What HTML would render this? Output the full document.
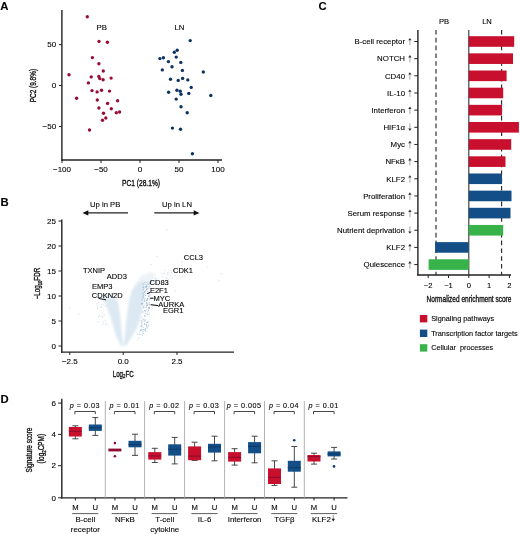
<!DOCTYPE html>
<html><head><meta charset="utf-8"><style>
html,body{margin:0;padding:0;background:#fff;}
svg{display:block;font-family:"Liberation Sans", sans-serif;opacity:0.999;}
text{fill:#000;stroke:#000;stroke-width:0.1px;}
text.cd{stroke:#1a1a1a;stroke-width:0.35px;}
</style></head><body>
<svg width="520" height="534" viewBox="0 0 520 534">
<defs><filter id="bl" x="-20%" y="-20%" width="140%" height="140%"><feGaussianBlur stdDeviation="0.8"/></filter></defs>
<rect width="520" height="534" fill="#fff"/>
<text x="0.2" y="9.7" font-size="11.3" text-anchor="start" font-weight="bold">A</text>
<text x="0.6" y="205.7" font-size="11.3" text-anchor="start" font-weight="bold">B</text>
<text x="318.4" y="9.7" font-size="11.3" text-anchor="start" font-weight="bold">C</text>
<text x="0.6" y="402.6" font-size="11.3" text-anchor="start" font-weight="bold">D</text>
<line x1="61.9" y1="10" x2="61.9" y2="160.6" stroke="#222" stroke-width="1.4" />
<line x1="61.2" y1="160" x2="222" y2="160" stroke="#222" stroke-width="1.3" />
<line x1="59" y1="44.6" x2="62" y2="44.6" stroke="#222" stroke-width="1" />
<text x="56.2" y="47.300000000000004" font-size="8.0" text-anchor="end" >50</text>
<line x1="59" y1="85.5" x2="62" y2="85.5" stroke="#222" stroke-width="1" />
<text x="56.2" y="88.2" font-size="8.0" text-anchor="end" >0</text>
<line x1="59" y1="126.5" x2="62" y2="126.5" stroke="#222" stroke-width="1" />
<text x="56.2" y="129.2" font-size="8.0" text-anchor="end" >&#8722;50</text>
<line x1="62" y1="160" x2="62" y2="163" stroke="#222" stroke-width="1" />
<text x="62" y="172.0" font-size="8.0" text-anchor="middle" >&#8722;100</text>
<line x1="101" y1="160" x2="101" y2="163" stroke="#222" stroke-width="1" />
<text x="101" y="172.0" font-size="8.0" text-anchor="middle" >&#8722;50</text>
<line x1="140" y1="160" x2="140" y2="163" stroke="#222" stroke-width="1" />
<text x="140" y="172.0" font-size="8.0" text-anchor="middle" >0</text>
<line x1="179" y1="160" x2="179" y2="163" stroke="#222" stroke-width="1" />
<text x="179" y="172.0" font-size="8.0" text-anchor="middle" >50</text>
<line x1="218" y1="160" x2="218" y2="163" stroke="#222" stroke-width="1" />
<text x="218" y="172.0" font-size="8.0" text-anchor="middle" >100</text>
<text x="141" y="185.6" font-size="8.8" text-anchor="middle" class="cd" textLength="38" lengthAdjust="spacingAndGlyphs">PC1 (28.1%)</text>
<text class="cd" transform="translate(35.9,85.6) rotate(-90)" font-size="8.8" text-anchor="middle" textLength="33.5" lengthAdjust="spacingAndGlyphs">PC2 (9.8%)</text>
<text x="101.8" y="29.8" font-size="7.8" text-anchor="middle" >PB</text>
<text x="179.5" y="29.6" font-size="7.8" text-anchor="middle" >LN</text>
<circle cx="87.3" cy="16.7" r="1.68" fill="#960c33" />
<circle cx="99" cy="41.4" r="1.68" fill="#960c33" />
<circle cx="107.4" cy="42.3" r="1.68" fill="#960c33" />
<circle cx="92.4" cy="57.6" r="1.68" fill="#960c33" />
<circle cx="98.9" cy="63.8" r="1.68" fill="#960c33" />
<circle cx="103.3" cy="71" r="1.68" fill="#960c33" />
<circle cx="69" cy="74.7" r="1.68" fill="#960c33" />
<circle cx="91.2" cy="76.9" r="1.68" fill="#960c33" />
<circle cx="98.8" cy="76.4" r="1.68" fill="#960c33" />
<circle cx="111.1" cy="78.1" r="1.68" fill="#960c33" />
<circle cx="99.8" cy="78.6" r="1.68" fill="#960c33" />
<circle cx="103.1" cy="79.8" r="1.68" fill="#960c33" />
<circle cx="88.4" cy="82.9" r="1.68" fill="#960c33" />
<circle cx="92" cy="90.6" r="1.68" fill="#960c33" />
<circle cx="97.1" cy="91.9" r="1.68" fill="#960c33" />
<circle cx="101.5" cy="90.2" r="1.68" fill="#960c33" />
<circle cx="109.5" cy="91.1" r="1.68" fill="#960c33" />
<circle cx="76.6" cy="98.3" r="1.68" fill="#960c33" />
<circle cx="97.3" cy="100" r="1.68" fill="#960c33" />
<circle cx="117.6" cy="100.7" r="1.68" fill="#960c33" />
<circle cx="107.6" cy="103.4" r="1.68" fill="#960c33" />
<circle cx="98.9" cy="108" r="1.68" fill="#960c33" />
<circle cx="111.3" cy="108.8" r="1.68" fill="#960c33" />
<circle cx="116.3" cy="112.7" r="1.68" fill="#960c33" />
<circle cx="119.6" cy="112" r="1.68" fill="#960c33" />
<circle cx="103.5" cy="113.2" r="1.68" fill="#960c33" />
<circle cx="105.8" cy="118" r="1.68" fill="#960c33" />
<circle cx="102.5" cy="120.2" r="1.68" fill="#960c33" />
<circle cx="89.5" cy="130" r="1.68" fill="#960c33" />
<circle cx="190.2" cy="40.6" r="1.68" fill="#0c3262" />
<circle cx="177.2" cy="50.3" r="1.68" fill="#0c3262" />
<circle cx="174.3" cy="52.2" r="1.68" fill="#0c3262" />
<circle cx="176.2" cy="57.1" r="1.68" fill="#0c3262" />
<circle cx="159.9" cy="58.6" r="1.68" fill="#0c3262" />
<circle cx="163.4" cy="57.8" r="1.68" fill="#0c3262" />
<circle cx="168.4" cy="61.6" r="1.68" fill="#0c3262" />
<circle cx="180.8" cy="62.4" r="1.68" fill="#0c3262" />
<circle cx="172" cy="66.8" r="1.68" fill="#0c3262" />
<circle cx="162.3" cy="69.9" r="1.68" fill="#0c3262" />
<circle cx="182.4" cy="70.4" r="1.68" fill="#0c3262" />
<circle cx="203.3" cy="72" r="1.68" fill="#0c3262" />
<circle cx="170.5" cy="79.2" r="1.68" fill="#0c3262" />
<circle cx="178.2" cy="80.4" r="1.68" fill="#0c3262" />
<circle cx="182.6" cy="78.4" r="1.68" fill="#0c3262" />
<circle cx="187.8" cy="79.9" r="1.68" fill="#0c3262" />
<circle cx="191.2" cy="87.4" r="1.68" fill="#0c3262" />
<circle cx="168.6" cy="92.2" r="1.68" fill="#0c3262" />
<circle cx="176.9" cy="90.3" r="1.68" fill="#0c3262" />
<circle cx="180.2" cy="91.3" r="1.68" fill="#0c3262" />
<circle cx="181" cy="94.3" r="1.68" fill="#0c3262" />
<circle cx="188.8" cy="93.4" r="1.68" fill="#0c3262" />
<circle cx="210.8" cy="95.5" r="1.68" fill="#0c3262" />
<circle cx="176.2" cy="99.1" r="1.68" fill="#0c3262" />
<circle cx="181" cy="106.8" r="1.68" fill="#0c3262" />
<circle cx="187.2" cy="112.7" r="1.68" fill="#0c3262" />
<circle cx="172.4" cy="128.1" r="1.68" fill="#0c3262" />
<circle cx="180.5" cy="129.3" r="1.68" fill="#0c3262" />
<circle cx="192.4" cy="153.7" r="1.68" fill="#0c3262" />
<text x="105.2" y="206.8" font-size="7.7" text-anchor="middle" >Up in PB</text>
<text x="177" y="206.8" font-size="7.7" text-anchor="middle" >Up in LN</text>
<line x1="86" y1="212.9" x2="128" y2="212.9" stroke="#222" stroke-width="1.2" />
<path d="M82.5,212.9 L88.3,210.3 L88.3,215.5 Z" fill="#111"/>
<line x1="154.3" y1="212.9" x2="196" y2="212.9" stroke="#222" stroke-width="1.2" />
<path d="M199.5,212.9 L193.7,210.3 L193.7,215.5 Z" fill="#111"/>
<line x1="61.8" y1="219.5" x2="61.8" y2="352.7" stroke="#222" stroke-width="1.4" />
<line x1="61.1" y1="352.1" x2="234" y2="352.1" stroke="#222" stroke-width="1.3" />
<line x1="58.5" y1="346" x2="61.8" y2="346" stroke="#222" stroke-width="1" />
<text x="56" y="348.7" font-size="8.0" text-anchor="end" >0</text>
<line x1="58.5" y1="321" x2="61.8" y2="321" stroke="#222" stroke-width="1" />
<text x="56" y="323.7" font-size="8.0" text-anchor="end" >5</text>
<line x1="58.5" y1="296" x2="61.8" y2="296" stroke="#222" stroke-width="1" />
<text x="56" y="298.7" font-size="8.0" text-anchor="end" >10</text>
<line x1="58.5" y1="271" x2="61.8" y2="271" stroke="#222" stroke-width="1" />
<text x="56" y="273.7" font-size="8.0" text-anchor="end" >15</text>
<line x1="58.5" y1="246" x2="61.8" y2="246" stroke="#222" stroke-width="1" />
<text x="56" y="248.7" font-size="8.0" text-anchor="end" >20</text>
<line x1="58.5" y1="221" x2="61.8" y2="221" stroke="#222" stroke-width="1" />
<text x="56" y="223.7" font-size="8.0" text-anchor="end" >25</text>
<line x1="69.8" y1="352.1" x2="69.8" y2="355" stroke="#222" stroke-width="1" />
<text x="69.8" y="363.7" font-size="8.0" text-anchor="middle" >&#8722;2.5</text>
<line x1="123.2" y1="352.1" x2="123.2" y2="355" stroke="#222" stroke-width="1" />
<text x="123.2" y="363.7" font-size="8.0" text-anchor="middle" >0.0</text>
<line x1="177" y1="352.1" x2="177" y2="355" stroke="#222" stroke-width="1" />
<text x="177" y="363.7" font-size="8.0" text-anchor="middle" >2.5</text>
<text class="cd" x="123.2" y="376.6" font-size="8.8" text-anchor="middle" textLength="21" lengthAdjust="spacingAndGlyphs">Log<tspan font-size="6" dy="1.8">2</tspan><tspan dy="-1.8">FC</tspan></text>
<text class="cd" transform="translate(40.3,283.6) rotate(-90)" font-size="8.8" text-anchor="middle" textLength="31.5" lengthAdjust="spacingAndGlyphs">&#8722;Log<tspan font-size="6" dy="1.8">10</tspan><tspan dy="-1.8">FDR</tspan></text>
<g filter="url(#bl)">
<polygon fill="#e6eff5" points="102,297 107,294 113,296 117,301 106,302"/>
<polygon fill="#edf3f8" points="131,296 135,284 141,276 150,272 156,274 150,282 144,288"/>
<polygon fill="#dde9f2" points="104.5,300.5 109,299 114,299 118,300.5 121,322 122.9,343 123.3,346 121,346 115.5,335 111.5,320"/>
<polygon fill="#dde9f2" points="132,290 137,284 142,281 145.5,283 144.5,300 140,320 136,330 130.5,339 126.5,345.5 123.7,346 124.1,343 126,322 129,300"/>
</g>
<circle cx="143.3" cy="297.5" r="0.55" fill="#7e9fc2" />
<circle cx="149.8" cy="283.5" r="0.55" fill="#9dbad6" />
<circle cx="142.4" cy="299.7" r="0.55" fill="#aac3dc" />
<circle cx="143.1" cy="291.9" r="0.55" fill="#c4d7e8" />
<circle cx="143.6" cy="284.6" r="0.55" fill="#c4d7e8" />
<circle cx="147.6" cy="284.0" r="0.55" fill="#b7cde2" />
<circle cx="146.0" cy="313.2" r="0.55" fill="#9dbad6" />
<circle cx="144.6" cy="310.4" r="0.55" fill="#b7cde2" />
<circle cx="150.2" cy="283.4" r="0.55" fill="#8aaacb" />
<circle cx="146.3" cy="302.4" r="0.55" fill="#aac3dc" />
<circle cx="149.0" cy="296.7" r="0.55" fill="#b7cde2" />
<circle cx="147.5" cy="286.3" r="0.55" fill="#b7cde2" />
<circle cx="146.5" cy="300.0" r="0.55" fill="#9dbad6" />
<circle cx="146.5" cy="309.8" r="0.55" fill="#c4d7e8" />
<circle cx="144.6" cy="315.7" r="0.55" fill="#8aaacb" />
<circle cx="149.4" cy="304.7" r="0.55" fill="#8aaacb" />
<circle cx="148.8" cy="296.3" r="0.55" fill="#7e9fc2" />
<circle cx="141.3" cy="320.8" r="0.55" fill="#8aaacb" />
<circle cx="148.8" cy="307.8" r="0.55" fill="#7e9fc2" />
<circle cx="146.8" cy="303.9" r="0.55" fill="#9dbad6" />
<circle cx="146.2" cy="287.0" r="0.55" fill="#8aaacb" />
<circle cx="146.7" cy="288.8" r="0.55" fill="#9dbad6" />
<circle cx="140.7" cy="330.1" r="0.55" fill="#aac3dc" />
<circle cx="148.7" cy="310.2" r="0.55" fill="#8aaacb" />
<circle cx="144.9" cy="298.3" r="0.55" fill="#c4d7e8" />
<circle cx="145.1" cy="310.6" r="0.55" fill="#9dbad6" />
<circle cx="144.1" cy="329.2" r="0.55" fill="#7e9fc2" />
<circle cx="149.0" cy="284.3" r="0.55" fill="#8aaacb" />
<circle cx="149.5" cy="314.0" r="0.55" fill="#c4d7e8" />
<circle cx="145.4" cy="295.5" r="0.55" fill="#7e9fc2" />
<circle cx="149.9" cy="298.7" r="0.55" fill="#8aaacb" />
<circle cx="143.5" cy="289.6" r="0.55" fill="#9dbad6" />
<circle cx="144.8" cy="292.1" r="0.55" fill="#7e9fc2" />
<circle cx="145.6" cy="293.6" r="0.55" fill="#c4d7e8" />
<circle cx="146.6" cy="285.1" r="0.55" fill="#aac3dc" />
<circle cx="143.3" cy="295.2" r="0.55" fill="#c4d7e8" />
<circle cx="142.7" cy="325.1" r="0.55" fill="#c4d7e8" />
<circle cx="145.8" cy="331.3" r="0.55" fill="#c4d7e8" />
<circle cx="141.4" cy="329.8" r="0.55" fill="#b7cde2" />
<circle cx="148.1" cy="288.7" r="0.55" fill="#9dbad6" />
<circle cx="146.5" cy="305.7" r="0.55" fill="#8aaacb" />
<circle cx="143.4" cy="295.4" r="0.55" fill="#aac3dc" />
<circle cx="146.7" cy="299.8" r="0.55" fill="#b7cde2" />
<circle cx="145.3" cy="316.2" r="0.55" fill="#aac3dc" />
<circle cx="147.3" cy="314.4" r="0.55" fill="#c4d7e8" />
<circle cx="146.9" cy="326.9" r="0.55" fill="#7e9fc2" />
<circle cx="143.9" cy="321.7" r="0.55" fill="#c4d7e8" />
<circle cx="145.9" cy="301.1" r="0.55" fill="#c4d7e8" />
<circle cx="143.4" cy="284.2" r="0.55" fill="#b7cde2" />
<circle cx="142.6" cy="303.5" r="0.55" fill="#aac3dc" />
<circle cx="142.8" cy="283.7" r="0.55" fill="#b7cde2" />
<circle cx="149.4" cy="308.4" r="0.55" fill="#aac3dc" />
<circle cx="150.4" cy="282.3" r="0.55" fill="#aac3dc" />
<circle cx="147.2" cy="300.2" r="0.55" fill="#8aaacb" />
<circle cx="145.2" cy="311.7" r="0.55" fill="#9dbad6" />
<circle cx="148.8" cy="324.3" r="0.55" fill="#c4d7e8" />
<circle cx="144.2" cy="305.5" r="0.55" fill="#b7cde2" />
<circle cx="145.6" cy="286.2" r="0.55" fill="#8aaacb" />
<circle cx="147.4" cy="305.4" r="0.55" fill="#aac3dc" />
<circle cx="151.0" cy="282.2" r="0.55" fill="#aac3dc" />
<circle cx="147.8" cy="299.4" r="0.55" fill="#9dbad6" />
<circle cx="143.2" cy="319.7" r="0.55" fill="#7e9fc2" />
<circle cx="146.3" cy="325.0" r="0.55" fill="#8aaacb" />
<circle cx="149.1" cy="307.4" r="0.55" fill="#8aaacb" />
<circle cx="145.2" cy="320.4" r="0.55" fill="#aac3dc" />
<circle cx="143.9" cy="297.8" r="0.55" fill="#b7cde2" />
<circle cx="147.5" cy="322.1" r="0.55" fill="#7e9fc2" />
<circle cx="142.2" cy="322.0" r="0.55" fill="#c4d7e8" />
<circle cx="142.2" cy="299.1" r="0.55" fill="#9dbad6" />
<circle cx="144.6" cy="321.3" r="0.55" fill="#b7cde2" />
<circle cx="149.0" cy="316.3" r="0.55" fill="#c4d7e8" />
<circle cx="146.7" cy="322.2" r="0.55" fill="#8aaacb" />
<circle cx="143.2" cy="329.7" r="0.55" fill="#b7cde2" />
<circle cx="146.7" cy="286.2" r="0.55" fill="#8aaacb" />
<circle cx="147.7" cy="291.4" r="0.55" fill="#aac3dc" />
<circle cx="144.5" cy="323.9" r="0.55" fill="#7e9fc2" />
<circle cx="147.4" cy="298.5" r="0.55" fill="#7e9fc2" />
<circle cx="145.9" cy="287.1" r="0.55" fill="#7e9fc2" />
<circle cx="144.8" cy="319.3" r="0.55" fill="#b7cde2" />
<circle cx="147.1" cy="303.1" r="0.55" fill="#9dbad6" />
<circle cx="148.8" cy="321.8" r="0.55" fill="#c4d7e8" />
<circle cx="147.9" cy="304.6" r="0.55" fill="#9dbad6" />
<circle cx="142.2" cy="318.0" r="0.55" fill="#b7cde2" />
<circle cx="147.9" cy="282.4" r="0.55" fill="#c4d7e8" />
<circle cx="141.8" cy="322.1" r="0.55" fill="#aac3dc" />
<circle cx="145.6" cy="331.0" r="0.55" fill="#8aaacb" />
<circle cx="147.2" cy="289.0" r="0.55" fill="#9dbad6" />
<circle cx="151.2" cy="281.7" r="0.55" fill="#7e9fc2" />
<circle cx="149.1" cy="286.2" r="0.55" fill="#b7cde2" />
<circle cx="149.1" cy="303.1" r="0.55" fill="#b7cde2" />
<circle cx="144.7" cy="282.4" r="0.55" fill="#aac3dc" />
<circle cx="147.2" cy="293.3" r="0.55" fill="#8aaacb" />
<circle cx="148.4" cy="308.8" r="0.55" fill="#9dbad6" />
<circle cx="143.2" cy="327.4" r="0.55" fill="#c4d7e8" />
<circle cx="147.9" cy="314.8" r="0.55" fill="#aac3dc" />
<circle cx="149.5" cy="302.5" r="0.55" fill="#aac3dc" />
<circle cx="143.9" cy="287.7" r="0.55" fill="#aac3dc" />
<circle cx="146.7" cy="282.0" r="0.55" fill="#b7cde2" />
<circle cx="147.7" cy="312.0" r="0.55" fill="#b7cde2" />
<circle cx="146.5" cy="289.8" r="0.55" fill="#7e9fc2" />
<circle cx="143.2" cy="287.1" r="0.55" fill="#7e9fc2" />
<circle cx="146.1" cy="307.4" r="0.55" fill="#9dbad6" />
<circle cx="140.8" cy="326.0" r="0.55" fill="#b7cde2" />
<circle cx="148.7" cy="295.1" r="0.55" fill="#aac3dc" />
<circle cx="141.9" cy="304.1" r="0.55" fill="#9dbad6" />
<circle cx="146.9" cy="303.6" r="0.55" fill="#aac3dc" />
<circle cx="142.8" cy="311.9" r="0.55" fill="#8aaacb" />
<circle cx="146.1" cy="304.1" r="0.55" fill="#c4d7e8" />
<circle cx="143.6" cy="306.9" r="0.55" fill="#aac3dc" />
<circle cx="148.3" cy="325.7" r="0.55" fill="#8aaacb" />
<circle cx="147.8" cy="328.1" r="0.55" fill="#b7cde2" />
<circle cx="141.6" cy="323.8" r="0.55" fill="#9dbad6" />
<circle cx="144.5" cy="301.0" r="0.55" fill="#7e9fc2" />
<circle cx="142.9" cy="293.3" r="0.55" fill="#7e9fc2" />
<circle cx="143.1" cy="296.4" r="0.55" fill="#b7cde2" />
<circle cx="145.6" cy="328.9" r="0.55" fill="#8aaacb" />
<circle cx="150.1" cy="288.3" r="0.55" fill="#c4d7e8" />
<circle cx="150.4" cy="292.2" r="0.55" fill="#c4d7e8" />
<circle cx="141.7" cy="326.1" r="0.55" fill="#7e9fc2" />
<circle cx="141.8" cy="323.5" r="0.55" fill="#c4d7e8" />
<circle cx="143.4" cy="331.7" r="0.55" fill="#c4d7e8" />
<circle cx="145.1" cy="291.0" r="0.55" fill="#7e9fc2" />
<circle cx="144.8" cy="299.7" r="0.55" fill="#c4d7e8" />
<circle cx="141.8" cy="303.5" r="0.55" fill="#8aaacb" />
<circle cx="143.9" cy="307.4" r="0.55" fill="#9dbad6" />
<circle cx="150.5" cy="286.8" r="0.55" fill="#b7cde2" />
<circle cx="140.9" cy="330.6" r="0.55" fill="#8aaacb" />
<circle cx="149.9" cy="294.9" r="0.55" fill="#b7cde2" />
<circle cx="143.3" cy="294.8" r="0.55" fill="#c4d7e8" />
<circle cx="146.1" cy="324.3" r="0.55" fill="#8aaacb" />
<circle cx="142.4" cy="331.7" r="0.5" fill="#aac3dc" />
<circle cx="142.2" cy="334.0" r="0.5" fill="#b7cde2" />
<circle cx="144.8" cy="329.9" r="0.5" fill="#b7cde2" />
<circle cx="139.5" cy="332.0" r="0.5" fill="#b7cde2" />
<circle cx="142.4" cy="334.9" r="0.5" fill="#b7cde2" />
<circle cx="139.1" cy="334.5" r="0.5" fill="#c4d7e8" />
<circle cx="138.7" cy="338.1" r="0.5" fill="#c4d7e8" />
<circle cx="137.5" cy="339.9" r="0.5" fill="#c4d7e8" />
<circle cx="137.9" cy="334.7" r="0.5" fill="#aac3dc" />
<circle cx="141.0" cy="329.3" r="0.5" fill="#b7cde2" />
<circle cx="141.3" cy="329.7" r="0.5" fill="#c4d7e8" />
<circle cx="140.8" cy="334.8" r="0.5" fill="#b7cde2" />
<circle cx="143.0" cy="330.1" r="0.5" fill="#b7cde2" />
<circle cx="144.9" cy="329.8" r="0.5" fill="#c4d7e8" />
<circle cx="141.9" cy="326.5" r="0.5" fill="#aac3dc" />
<circle cx="139.3" cy="333.7" r="0.5" fill="#c4d7e8" />
<circle cx="143.0" cy="329.4" r="0.5" fill="#aac3dc" />
<circle cx="138.9" cy="337.5" r="0.5" fill="#c4d7e8" />
<circle cx="143.5" cy="333.6" r="0.5" fill="#aac3dc" />
<circle cx="141.1" cy="330.3" r="0.5" fill="#b7cde2" />
<circle cx="105.3" cy="305.9" r="0.5" fill="#b9cbdb" />
<circle cx="98.4" cy="317.1" r="0.5" fill="#c4d7e8" />
<circle cx="105.4" cy="324.5" r="0.5" fill="#d0dfea" />
<circle cx="104.4" cy="298.1" r="0.5" fill="#c4d7e8" />
<circle cx="97.6" cy="308.5" r="0.5" fill="#b9cbdb" />
<circle cx="105.7" cy="320.4" r="0.5" fill="#b9cbdb" />
<circle cx="103.0" cy="324.2" r="0.5" fill="#b9cbdb" />
<circle cx="101.6" cy="304.5" r="0.5" fill="#d0dfea" />
<circle cx="97.0" cy="303.8" r="0.5" fill="#c4d7e8" />
<circle cx="106.7" cy="323.9" r="0.5" fill="#b9cbdb" />
<circle cx="97.3" cy="305.4" r="0.5" fill="#c4d7e8" />
<circle cx="98.8" cy="302.3" r="0.5" fill="#c4d7e8" />
<circle cx="101.7" cy="307.1" r="0.5" fill="#b9cbdb" />
<circle cx="99.5" cy="315.0" r="0.5" fill="#d0dfea" />
<circle cx="105.2" cy="298.6" r="0.5" fill="#d0dfea" />
<circle cx="97.4" cy="307.6" r="0.5" fill="#d0dfea" />
<circle cx="103.3" cy="304.7" r="0.5" fill="#d0dfea" />
<circle cx="102.3" cy="313.0" r="0.5" fill="#d0dfea" />
<circle cx="104.2" cy="315.1" r="0.5" fill="#b9cbdb" />
<circle cx="100.3" cy="307.3" r="0.5" fill="#c4d7e8" />
<circle cx="104.2" cy="300.3" r="0.5" fill="#b9cbdb" />
<circle cx="105.2" cy="300.2" r="0.5" fill="#b9cbdb" />
<circle cx="103.3" cy="321.9" r="0.5" fill="#b9cbdb" />
<circle cx="102.1" cy="316.3" r="0.5" fill="#b9cbdb" />
<circle cx="102.7" cy="317.8" r="0.5" fill="#d0dfea" />
<circle cx="165.1" cy="270.4" r="0.55" fill="#d5e2ee" />
<circle cx="149.3" cy="285.8" r="0.55" fill="#c8d9e8" />
<circle cx="154.7" cy="280.6" r="0.55" fill="#c8d9e8" />
<circle cx="161.8" cy="273.5" r="0.55" fill="#c8d9e8" />
<circle cx="161.9" cy="282.1" r="0.55" fill="#c8d9e8" />
<circle cx="166.8" cy="278.1" r="0.55" fill="#b9cde0" />
<circle cx="169.1" cy="272.1" r="0.55" fill="#d5e2ee" />
<circle cx="149.6" cy="279.8" r="0.55" fill="#dfe9f2" />
<circle cx="147.7" cy="283.5" r="0.55" fill="#c8d9e8" />
<circle cx="162.0" cy="275.8" r="0.55" fill="#d5e2ee" />
<circle cx="152.2" cy="277.3" r="0.55" fill="#d5e2ee" />
<circle cx="145.8" cy="286.7" r="0.55" fill="#c8d9e8" />
<circle cx="164.0" cy="273.4" r="0.55" fill="#b9cde0" />
<circle cx="157.0" cy="279.3" r="0.55" fill="#d5e2ee" />
<circle cx="155.3" cy="283.1" r="0.55" fill="#b9cde0" />
<circle cx="160.0" cy="272.0" r="0.55" fill="#dfe9f2" />
<circle cx="170.4" cy="275.5" r="0.55" fill="#d5e2ee" />
<circle cx="149.0" cy="287.6" r="0.55" fill="#b9cde0" />
<circle cx="175.1" cy="275.8" r="0.55" fill="#b9cde0" />
<circle cx="170.2" cy="270.6" r="0.55" fill="#dfe9f2" />
<circle cx="158.5" cy="286.3" r="0.55" fill="#dfe9f2" />
<circle cx="155.9" cy="276.8" r="0.55" fill="#dfe9f2" />
<circle cx="153.5" cy="281.1" r="0.55" fill="#b9cde0" />
<circle cx="172.5" cy="278.1" r="0.55" fill="#c8d9e8" />
<circle cx="170.6" cy="275.3" r="0.55" fill="#dfe9f2" />
<circle cx="156.3" cy="279.3" r="0.55" fill="#dfe9f2" />
<circle cx="167.7" cy="272.7" r="0.55" fill="#c8d9e8" />
<circle cx="168.0" cy="280.3" r="0.55" fill="#d5e2ee" />
<circle cx="171.5" cy="272.5" r="0.55" fill="#b9cde0" />
<circle cx="167.1" cy="274.5" r="0.55" fill="#dfe9f2" />
<circle cx="173.8" cy="270.9" r="0.55" fill="#c8d9e8" />
<circle cx="145.2" cy="282.0" r="0.55" fill="#d5e2ee" />
<circle cx="163.2" cy="277.3" r="0.55" fill="#d5e2ee" />
<circle cx="147.7" cy="284.7" r="0.55" fill="#b9cde0" />
<circle cx="167.7" cy="274.6" r="0.55" fill="#d5e2ee" />
<circle cx="151.2" cy="280.4" r="0.55" fill="#d5e2ee" />
<circle cx="165.4" cy="278.0" r="0.55" fill="#dfe9f2" />
<circle cx="158.8" cy="278.5" r="0.55" fill="#dfe9f2" />
<circle cx="155.4" cy="278.9" r="0.55" fill="#d5e2ee" />
<circle cx="155.5" cy="282.1" r="0.55" fill="#b9cde0" />
<circle cx="168.4" cy="274.4" r="0.55" fill="#dfe9f2" />
<circle cx="155.4" cy="278.2" r="0.55" fill="#b9cde0" />
<circle cx="155.6" cy="281.8" r="0.55" fill="#b9cde0" />
<circle cx="145.0" cy="284.0" r="0.55" fill="#d5e2ee" />
<circle cx="148.3" cy="282.8" r="0.55" fill="#dfe9f2" />
<circle cx="98.6" cy="299.8" r="0.55" fill="#d5e2ee" />
<circle cx="100.5" cy="299.8" r="0.55" fill="#dfe9f2" />
<circle cx="93.7" cy="293.2" r="0.55" fill="#dfe9f2" />
<circle cx="94.3" cy="294.1" r="0.55" fill="#d5e2ee" />
<circle cx="103.2" cy="297.9" r="0.55" fill="#dfe9f2" />
<circle cx="103.2" cy="298.4" r="0.55" fill="#d5e2ee" />
<circle cx="103.6" cy="296.2" r="0.55" fill="#dfe9f2" />
<circle cx="93.1" cy="291.5" r="0.55" fill="#dfe9f2" />
<circle cx="97.5" cy="295.3" r="0.55" fill="#d5e2ee" />
<circle cx="100.5" cy="299.3" r="0.55" fill="#d5e2ee" />
<circle cx="99.8" cy="295.7" r="0.55" fill="#dfe9f2" />
<circle cx="98.8" cy="293.6" r="0.55" fill="#d5e2ee" />
<circle cx="100.0" cy="296.1" r="0.55" fill="#dfe9f2" />
<circle cx="104.5" cy="302.6" r="0.55" fill="#dfe9f2" />
<circle cx="103.4" cy="300.6" r="0.55" fill="#dfe9f2" />
<circle cx="167" cy="230" r="0.8" fill="#dde7f0" />
<circle cx="151" cy="264.6" r="0.8" fill="#dde7f0" />
<circle cx="157" cy="256.5" r="0.8" fill="#dde7f0" />
<circle cx="182" cy="262" r="0.8" fill="#dde7f0" />
<circle cx="207.7" cy="267" r="0.8" fill="#dde7f0" />
<circle cx="221.5" cy="273.8" r="0.8" fill="#dde7f0" />
<circle cx="219" cy="280.8" r="0.8" fill="#dde7f0" />
<circle cx="182.3" cy="277.3" r="0.8" fill="#dde7f0" />
<circle cx="175.4" cy="291" r="0.8" fill="#dde7f0" />
<circle cx="69.9" cy="308.3" r="0.8" fill="#dde7f0" />
<circle cx="78.9" cy="314" r="0.8" fill="#dde7f0" />
<circle cx="100" cy="316" r="0.8" fill="#dde7f0" />
<circle cx="98" cy="322" r="0.8" fill="#dde7f0" />
<text x="183.8" y="259.6" font-size="7.5" text-anchor="start" >CCL3</text>
<text x="173" y="272.6" font-size="7.5" text-anchor="start" >CDK1</text>
<text x="83" y="273.1" font-size="7.5" text-anchor="start" >TXNIP</text>
<text x="106.8" y="278.8" font-size="7.5" text-anchor="start" >ADD3</text>
<text x="92" y="289.1" font-size="7.5" text-anchor="start" >EMP3</text>
<text x="91.8" y="298.1" font-size="7.5" text-anchor="start" >CDKN2D</text>
<text x="149.6" y="284.6" font-size="7.5" text-anchor="start" >CD83</text>
<text x="149.9" y="292.8" font-size="7.5" text-anchor="start" >E2F1</text>
<text x="153.5" y="300.8" font-size="7.5" text-anchor="start" >MYC</text>
<text x="158.3" y="307.2" font-size="7.5" text-anchor="start" >AURKA</text>
<text x="162.9" y="312.8" font-size="7.5" text-anchor="start" >EGR1</text>
<line x1="147.3" y1="293.6" x2="150" y2="292.6" stroke="#000" stroke-width="1" />
<line x1="150.1" y1="298.2" x2="153.6" y2="298.2" stroke="#000" stroke-width="1" />
<line x1="150.6" y1="304.7" x2="158.3" y2="305.6" stroke="#000" stroke-width="1" />
<line x1="98.5" y1="298.4" x2="106" y2="299.8" stroke="#000" stroke-width="0.9" />
<line x1="417.9" y1="30" x2="417.9" y2="275.6" stroke="#222" stroke-width="1.4" />
<line x1="417.2" y1="275" x2="511" y2="275" stroke="#222" stroke-width="1.3" />
<line x1="436" y1="30" x2="436" y2="275" stroke="#222" stroke-width="1.1" stroke-dasharray="4.6,3.2"/>
<line x1="501.6" y1="30" x2="501.6" y2="275" stroke="#222" stroke-width="1.1" stroke-dasharray="4.6,3.2"/>
<line x1="468.8" y1="30" x2="468.8" y2="275" stroke="#333" stroke-width="1.1" />
<rect x="468.8" y="36.2" width="45.400000000000034" height="10.6" fill="#c8102e" />
<line x1="414.3" y1="41.5" x2="418" y2="41.5" stroke="#222" stroke-width="1" />
<text x="405" y="44.3" font-size="7.85" text-anchor="end" >B-cell receptor</text>
<path d="M409.9,39.5 V45.4" stroke="#777" stroke-width="0.65"/><path d="M408.2,40.3 L411.59999999999997,40.3 L409.9,37.9 Z" fill="#333"/>
<rect x="468.8" y="53.36" width="44.19999999999999" height="10.6" fill="#c8102e" />
<line x1="414.3" y1="58.66" x2="418" y2="58.66" stroke="#222" stroke-width="1" />
<text x="405" y="61.459999999999994" font-size="7.85" text-anchor="end" >NOTCH</text>
<path d="M409.9,56.66 V62.559999999999995" stroke="#777" stroke-width="0.65"/><path d="M408.2,57.459999999999994 L411.59999999999997,57.459999999999994 L409.9,55.059999999999995 Z" fill="#333"/>
<rect x="468.8" y="70.52" width="37.80000000000001" height="10.6" fill="#c8102e" />
<line x1="414.3" y1="75.82" x2="418" y2="75.82" stroke="#222" stroke-width="1" />
<text x="405" y="78.61999999999999" font-size="7.85" text-anchor="end" >CD40</text>
<path d="M409.9,73.82 V79.72" stroke="#777" stroke-width="0.65"/><path d="M408.2,74.61999999999999 L411.59999999999997,74.61999999999999 L409.9,72.22 Z" fill="#333"/>
<rect x="468.8" y="87.68" width="34.39999999999998" height="10.6" fill="#c8102e" />
<line x1="414.3" y1="92.98" x2="418" y2="92.98" stroke="#222" stroke-width="1" />
<text x="405" y="95.78" font-size="7.85" text-anchor="end" >IL-10</text>
<path d="M409.9,90.98 V96.88000000000001" stroke="#777" stroke-width="0.65"/><path d="M408.2,91.78 L411.59999999999997,91.78 L409.9,89.38000000000001 Z" fill="#333"/>
<rect x="468.8" y="104.84" width="33.19999999999999" height="10.6" fill="#c8102e" />
<line x1="414.3" y1="110.14" x2="418" y2="110.14" stroke="#222" stroke-width="1" />
<text x="405" y="112.94" font-size="7.85" text-anchor="end" >Interferon</text>
<path d="M409.9,108.14 V114.04" stroke="#777" stroke-width="0.65"/><path d="M408.2,108.94 L411.59999999999997,108.94 L409.9,106.54 Z" fill="#333"/>
<rect x="468.8" y="122.0" width="50.099999999999966" height="10.6" fill="#c8102e" />
<line x1="414.3" y1="127.3" x2="418" y2="127.3" stroke="#222" stroke-width="1" />
<text x="405" y="130.1" font-size="7.85" text-anchor="end" >HIF1&#945;</text>
<path d="M409.9,123.3 V129.3" stroke="#777" stroke-width="0.65"/><path d="M408.2,128.5 L411.59999999999997,128.5 L409.9,130.9 Z" fill="#333"/>
<rect x="468.8" y="139.16" width="42.39999999999998" height="10.6" fill="#c8102e" />
<line x1="414.3" y1="144.46" x2="418" y2="144.46" stroke="#222" stroke-width="1" />
<text x="405" y="147.26000000000002" font-size="7.85" text-anchor="end" >Myc</text>
<path d="M409.9,142.46 V148.36" stroke="#777" stroke-width="0.65"/><path d="M408.2,143.26000000000002 L411.59999999999997,143.26000000000002 L409.9,140.86 Z" fill="#333"/>
<rect x="468.8" y="156.32" width="36.69999999999999" height="10.6" fill="#c8102e" />
<line x1="414.3" y1="161.62" x2="418" y2="161.62" stroke="#222" stroke-width="1" />
<text x="405" y="164.42000000000002" font-size="7.85" text-anchor="end" >NF&#954;B</text>
<path d="M409.9,159.62 V165.52" stroke="#777" stroke-width="0.65"/><path d="M408.2,160.42000000000002 L411.59999999999997,160.42000000000002 L409.9,158.02 Z" fill="#333"/>
<rect x="468.8" y="173.48" width="33.19999999999999" height="10.6" fill="#134f86" />
<line x1="414.3" y1="178.78" x2="418" y2="178.78" stroke="#222" stroke-width="1" />
<text x="405" y="181.58" font-size="7.85" text-anchor="end" >KLF2</text>
<path d="M409.9,176.78 V182.68" stroke="#777" stroke-width="0.65"/><path d="M408.2,177.58 L411.59999999999997,177.58 L409.9,175.18 Z" fill="#333"/>
<rect x="468.8" y="190.64" width="42.69999999999999" height="10.6" fill="#134f86" />
<line x1="414.3" y1="195.94" x2="418" y2="195.94" stroke="#222" stroke-width="1" />
<text x="405" y="198.74" font-size="7.85" text-anchor="end" >Proliferation</text>
<path d="M409.9,193.94 V199.84" stroke="#777" stroke-width="0.65"/><path d="M408.2,194.74 L411.59999999999997,194.74 L409.9,192.34 Z" fill="#333"/>
<rect x="468.8" y="207.79999999999998" width="41.69999999999999" height="10.6" fill="#134f86" />
<line x1="414.3" y1="213.1" x2="418" y2="213.1" stroke="#222" stroke-width="1" />
<text x="405" y="215.9" font-size="7.85" text-anchor="end" >Serum response</text>
<path d="M409.9,211.1 V217.0" stroke="#777" stroke-width="0.65"/><path d="M408.2,211.9 L411.59999999999997,211.9 L409.9,209.5 Z" fill="#333"/>
<rect x="468.8" y="224.95999999999998" width="34.39999999999998" height="10.6" fill="#37b34a" />
<line x1="414.3" y1="230.26" x2="418" y2="230.26" stroke="#222" stroke-width="1" />
<text x="405" y="233.06" font-size="7.85" text-anchor="end" >Nutrient deprivation</text>
<path d="M409.9,226.26 V232.26" stroke="#777" stroke-width="0.65"/><path d="M408.2,231.45999999999998 L411.59999999999997,231.45999999999998 L409.9,233.85999999999999 Z" fill="#333"/>
<rect x="435.1" y="242.12" width="33.69999999999999" height="10.6" fill="#134f86" />
<line x1="414.3" y1="247.42000000000002" x2="418" y2="247.42000000000002" stroke="#222" stroke-width="1" />
<text x="405" y="250.22000000000003" font-size="7.85" text-anchor="end" >KLF2</text>
<path d="M409.9,245.42000000000002 V251.32000000000002" stroke="#777" stroke-width="0.65"/><path d="M408.2,246.22000000000003 L411.59999999999997,246.22000000000003 L409.9,243.82000000000002 Z" fill="#333"/>
<rect x="428.6" y="259.28000000000003" width="40.19999999999999" height="10.6" fill="#37b34a" />
<line x1="414.3" y1="264.58000000000004" x2="418" y2="264.58000000000004" stroke="#222" stroke-width="1" />
<text x="405" y="267.38000000000005" font-size="7.85" text-anchor="end" >Quiescence</text>
<path d="M409.9,262.58000000000004 V268.48" stroke="#777" stroke-width="0.65"/><path d="M408.2,263.38000000000005 L411.59999999999997,263.38000000000005 L409.9,260.98 Z" fill="#333"/>
<text x="444" y="23.8" font-size="7.6" text-anchor="middle" >PB</text>
<text x="487" y="23.8" font-size="7.6" text-anchor="middle" >LN</text>
<line x1="428.2" y1="275" x2="428.2" y2="278" stroke="#222" stroke-width="1" />
<text x="428.2" y="288.2" font-size="7.6" text-anchor="middle" >&#8722;2</text>
<line x1="448.5" y1="275" x2="448.5" y2="278" stroke="#222" stroke-width="1" />
<text x="448.5" y="288.2" font-size="7.6" text-anchor="middle" >&#8722;1</text>
<line x1="468.8" y1="275" x2="468.8" y2="278" stroke="#222" stroke-width="1" />
<text x="468.8" y="288.2" font-size="7.6" text-anchor="middle" >0</text>
<line x1="489.1" y1="275" x2="489.1" y2="278" stroke="#222" stroke-width="1" />
<text x="489.1" y="288.2" font-size="7.6" text-anchor="middle" >1</text>
<line x1="509.40000000000003" y1="275" x2="509.40000000000003" y2="278" stroke="#222" stroke-width="1" />
<text x="509.40000000000003" y="288.2" font-size="7.6" text-anchor="middle" >2</text>
<text x="469" y="301.5" font-size="8.8" text-anchor="middle" class="cd" textLength="84.8" lengthAdjust="spacingAndGlyphs">Normalized enrichment score</text>
<rect x="419.9" y="315" width="7.4" height="7.4" fill="#c8102e" />
<text x="431.2" y="321.2" font-size="7.3" text-anchor="start" xml:space="preserve">Signaling pathways</text>
<rect x="419.9" y="329.6" width="7.4" height="7.4" fill="#134f86" />
<text x="431.2" y="335.70000000000005" font-size="7.3" text-anchor="start" xml:space="preserve">Transcription factor targets</text>
<rect x="419.9" y="344.2" width="7.4" height="7.4" fill="#37b34a" />
<text x="431.2" y="349.8" font-size="7.3" text-anchor="start" xml:space="preserve">Cellular  processes</text>
<line x1="61.8" y1="398.8" x2="61.8" y2="498.4" stroke="#222" stroke-width="1.4" />
<line x1="61.1" y1="497.8" x2="347.5" y2="497.8" stroke="#222" stroke-width="1.3" />
<line x1="58" y1="465.7" x2="61.8" y2="465.7" stroke="#222" stroke-width="1" />
<text x="56" y="468.4" font-size="8.0" text-anchor="end" >2</text>
<line x1="58" y1="434.4" x2="61.8" y2="434.4" stroke="#222" stroke-width="1" />
<text x="56" y="437.09999999999997" font-size="8.0" text-anchor="end" >4</text>
<line x1="58" y1="403.1" x2="61.8" y2="403.1" stroke="#222" stroke-width="1" />
<text x="56" y="405.8" font-size="8.0" text-anchor="end" >6</text>
<text class="cd" transform="translate(32.2,450.1) rotate(-90)" font-size="8.6" text-anchor="middle" textLength="45" lengthAdjust="spacingAndGlyphs">Signature score</text>
<text class="cd" transform="translate(44.4,448.7) rotate(-90)" font-size="8.6" text-anchor="middle" textLength="29.5" lengthAdjust="spacingAndGlyphs">(log<tspan font-size="5.8" dy="1.6">2</tspan><tspan dy="-1.6">CPM)</tspan></text>
<line x1="105.3" y1="401" x2="105.3" y2="497.8" stroke="#aaa" stroke-width="0.9" />
<line x1="144.6" y1="401" x2="144.6" y2="497.8" stroke="#aaa" stroke-width="0.9" />
<line x1="184.6" y1="401" x2="184.6" y2="497.8" stroke="#aaa" stroke-width="0.9" />
<line x1="224.6" y1="401" x2="224.6" y2="497.8" stroke="#aaa" stroke-width="0.9" />
<line x1="264.5" y1="401" x2="264.5" y2="497.8" stroke="#aaa" stroke-width="0.9" />
<line x1="304.3" y1="401" x2="304.3" y2="497.8" stroke="#aaa" stroke-width="0.9" />
<line x1="58" y1="497.8" x2="61.8" y2="497.8" stroke="#222" stroke-width="1" />
<text x="56" y="500.5" font-size="8.0" text-anchor="end" >0</text>
<text x="84.92499999999998" y="408.4" font-size="7.2" letter-spacing="0.5" text-anchor="middle"><tspan font-style="italic">p</tspan> = 0.03</text>
<path d="M74.85,414.2 V411.5 H95.3 V414.2" fill="none" stroke="#333" stroke-width="0.9"/>
<line x1="75.35" y1="425.8" x2="75.35" y2="438.8" stroke="#333" stroke-width="0.9" />
<line x1="72.35" y1="425.8" x2="78.35" y2="425.8" stroke="#333" stroke-width="0.9" />
<line x1="72.35" y1="438.8" x2="78.35" y2="438.8" stroke="#333" stroke-width="0.9" />
<rect x="68.85" y="427" width="13" height="9.5" fill="#c8102e" />
<line x1="68.85" y1="431.3" x2="81.85" y2="431.3" stroke="#8c0b30" stroke-width="1.1" />
<line x1="95.3" y1="417.6" x2="95.3" y2="435.4" stroke="#333" stroke-width="0.9" />
<line x1="92.3" y1="417.6" x2="98.3" y2="417.6" stroke="#333" stroke-width="0.9" />
<line x1="92.3" y1="435.4" x2="98.3" y2="435.4" stroke="#333" stroke-width="0.9" />
<rect x="88.8" y="424.5" width="13" height="6.399999999999977" fill="#134f86" />
<line x1="88.8" y1="427.7" x2="101.8" y2="427.7" stroke="#0f3a6b" stroke-width="1.1" />
<line x1="75.35" y1="497.8" x2="75.35" y2="500.5" stroke="#222" stroke-width="1" />
<line x1="95.3" y1="497.8" x2="95.3" y2="500.5" stroke="#222" stroke-width="1" />
<text x="75.35" y="510.3" font-size="7.7" text-anchor="middle" >M</text>
<text x="95.3" y="510.3" font-size="7.7" text-anchor="middle" >U</text>
<line x1="72.14999999999999" y1="513.6" x2="98.3" y2="513.6" stroke="#333" stroke-width="0.8" />
<text x="85.32499999999999" y="521.9" font-size="7.9" text-anchor="middle" >B-cell</text>
<text x="85.32499999999999" y="531.5" font-size="7.9" text-anchor="middle" >receptor</text>
<text x="124.55" y="408.4" font-size="7.2" letter-spacing="0.5" text-anchor="middle"><tspan font-style="italic">p</tspan> = 0.01</text>
<path d="M114.4,414.2 V411.5 H135.0 V414.2" fill="none" stroke="#333" stroke-width="0.9"/>
<line x1="135.0" y1="434.2" x2="135.0" y2="455.4" stroke="#333" stroke-width="0.9" />
<line x1="132.0" y1="434.2" x2="138.0" y2="434.2" stroke="#333" stroke-width="0.9" />
<line x1="132.0" y1="455.4" x2="138.0" y2="455.4" stroke="#333" stroke-width="0.9" />
<rect x="128.5" y="440.8" width="13" height="6.5" fill="#134f86" />
<line x1="128.5" y1="444.6" x2="141.5" y2="444.6" stroke="#0f3a6b" stroke-width="1.1" />
<line x1="114.9" y1="497.8" x2="114.9" y2="500.5" stroke="#222" stroke-width="1" />
<line x1="135.0" y1="497.8" x2="135.0" y2="500.5" stroke="#222" stroke-width="1" />
<text x="114.9" y="510.3" font-size="7.7" text-anchor="middle" >M</text>
<text x="135.0" y="510.3" font-size="7.7" text-anchor="middle" >U</text>
<line x1="111.7" y1="513.6" x2="138.0" y2="513.6" stroke="#333" stroke-width="0.8" />
<text x="124.95" y="521.9" font-size="7.9" text-anchor="middle" >NF&#954;B</text>
<text x="164.35" y="408.4" font-size="7.2" letter-spacing="0.5" text-anchor="middle"><tspan font-style="italic">p</tspan> = 0.02</text>
<path d="M154.3,414.2 V411.5 H174.7 V414.2" fill="none" stroke="#333" stroke-width="0.9"/>
<line x1="154.8" y1="448.3" x2="154.8" y2="462.5" stroke="#333" stroke-width="0.9" />
<line x1="151.8" y1="448.3" x2="157.8" y2="448.3" stroke="#333" stroke-width="0.9" />
<line x1="151.8" y1="462.5" x2="157.8" y2="462.5" stroke="#333" stroke-width="0.9" />
<rect x="148.3" y="452.1" width="13" height="7.5" fill="#c8102e" />
<line x1="148.3" y1="455.9" x2="161.3" y2="455.9" stroke="#8c0b30" stroke-width="1.1" />
<line x1="174.7" y1="437.4" x2="174.7" y2="463.9" stroke="#333" stroke-width="0.9" />
<line x1="171.7" y1="437.4" x2="177.7" y2="437.4" stroke="#333" stroke-width="0.9" />
<line x1="171.7" y1="463.9" x2="177.7" y2="463.9" stroke="#333" stroke-width="0.9" />
<rect x="168.2" y="444.3" width="13" height="11.300000000000011" fill="#134f86" />
<line x1="168.2" y1="449.2" x2="181.2" y2="449.2" stroke="#0f3a6b" stroke-width="1.1" />
<line x1="154.8" y1="497.8" x2="154.8" y2="500.5" stroke="#222" stroke-width="1" />
<line x1="174.7" y1="497.8" x2="174.7" y2="500.5" stroke="#222" stroke-width="1" />
<text x="154.8" y="510.3" font-size="7.7" text-anchor="middle" >M</text>
<text x="174.7" y="510.3" font-size="7.7" text-anchor="middle" >U</text>
<line x1="151.60000000000002" y1="513.6" x2="177.7" y2="513.6" stroke="#333" stroke-width="0.8" />
<text x="164.75" y="521.9" font-size="7.9" text-anchor="middle" >T-cell</text>
<text x="164.75" y="531.5" font-size="7.9" text-anchor="middle" >cytokine</text>
<text x="204.15" y="408.4" font-size="7.2" letter-spacing="0.5" text-anchor="middle"><tspan font-style="italic">p</tspan> = 0.03</text>
<path d="M194.1,414.2 V411.5 H214.5 V414.2" fill="none" stroke="#333" stroke-width="0.9"/>
<line x1="194.6" y1="442.2" x2="194.6" y2="460.4" stroke="#333" stroke-width="0.9" />
<line x1="191.6" y1="442.2" x2="197.6" y2="442.2" stroke="#333" stroke-width="0.9" />
<line x1="191.6" y1="460.4" x2="197.6" y2="460.4" stroke="#333" stroke-width="0.9" />
<rect x="188.1" y="446.4" width="13" height="13.800000000000011" fill="#c8102e" />
<line x1="188.1" y1="456.1" x2="201.1" y2="456.1" stroke="#8c0b30" stroke-width="1.1" />
<line x1="214.5" y1="436.2" x2="214.5" y2="460.8" stroke="#333" stroke-width="0.9" />
<line x1="211.5" y1="436.2" x2="217.5" y2="436.2" stroke="#333" stroke-width="0.9" />
<line x1="211.5" y1="460.8" x2="217.5" y2="460.8" stroke="#333" stroke-width="0.9" />
<rect x="208.0" y="443.8" width="13" height="8.800000000000011" fill="#134f86" />
<line x1="208.0" y1="446.9" x2="221.0" y2="446.9" stroke="#0f3a6b" stroke-width="1.1" />
<line x1="194.6" y1="497.8" x2="194.6" y2="500.5" stroke="#222" stroke-width="1" />
<line x1="214.5" y1="497.8" x2="214.5" y2="500.5" stroke="#222" stroke-width="1" />
<text x="194.6" y="510.3" font-size="7.7" text-anchor="middle" >M</text>
<text x="214.5" y="510.3" font-size="7.7" text-anchor="middle" >U</text>
<line x1="191.4" y1="513.6" x2="217.5" y2="513.6" stroke="#333" stroke-width="0.8" />
<text x="204.55" y="521.9" font-size="7.9" text-anchor="middle" >IL-6</text>
<text x="244.2" y="408.4" font-size="7.2" letter-spacing="0.5" text-anchor="middle"><tspan font-style="italic">p</tspan> = 0.005</text>
<path d="M234.1,414.2 V411.5 H254.6 V414.2" fill="none" stroke="#333" stroke-width="0.9"/>
<line x1="234.6" y1="448.7" x2="234.6" y2="465.1" stroke="#333" stroke-width="0.9" />
<line x1="231.6" y1="448.7" x2="237.6" y2="448.7" stroke="#333" stroke-width="0.9" />
<line x1="231.6" y1="465.1" x2="237.6" y2="465.1" stroke="#333" stroke-width="0.9" />
<rect x="228.1" y="452.1" width="13" height="9.5" fill="#c8102e" />
<line x1="228.1" y1="457.3" x2="241.1" y2="457.3" stroke="#8c0b30" stroke-width="1.1" />
<line x1="254.6" y1="436.2" x2="254.6" y2="462.8" stroke="#333" stroke-width="0.9" />
<line x1="251.6" y1="436.2" x2="257.6" y2="436.2" stroke="#333" stroke-width="0.9" />
<line x1="251.6" y1="462.8" x2="257.6" y2="462.8" stroke="#333" stroke-width="0.9" />
<rect x="248.1" y="442.1" width="13" height="11.199999999999989" fill="#134f86" />
<line x1="248.1" y1="446.4" x2="261.1" y2="446.4" stroke="#0f3a6b" stroke-width="1.1" />
<line x1="234.6" y1="497.8" x2="234.6" y2="500.5" stroke="#222" stroke-width="1" />
<line x1="254.6" y1="497.8" x2="254.6" y2="500.5" stroke="#222" stroke-width="1" />
<text x="234.6" y="510.3" font-size="7.7" text-anchor="middle" >M</text>
<text x="254.6" y="510.3" font-size="7.7" text-anchor="middle" >U</text>
<line x1="231.4" y1="513.6" x2="257.6" y2="513.6" stroke="#333" stroke-width="0.8" />
<text x="244.6" y="521.9" font-size="7.9" text-anchor="middle" >Interferon</text>
<text x="284.0" y="408.4" font-size="7.2" letter-spacing="0.5" text-anchor="middle"><tspan font-style="italic">p</tspan> = 0.04</text>
<path d="M274.0,414.2 V411.5 H294.3 V414.2" fill="none" stroke="#333" stroke-width="0.9"/>
<line x1="274.5" y1="460.8" x2="274.5" y2="485.4" stroke="#333" stroke-width="0.9" />
<line x1="271.5" y1="460.8" x2="277.5" y2="460.8" stroke="#333" stroke-width="0.9" />
<line x1="271.5" y1="485.4" x2="277.5" y2="485.4" stroke="#333" stroke-width="0.9" />
<rect x="268.0" y="468.4" width="13" height="15.600000000000023" fill="#c8102e" />
<line x1="268.0" y1="477.3" x2="281.0" y2="477.3" stroke="#8c0b30" stroke-width="1.1" />
<line x1="294.3" y1="446.5" x2="294.3" y2="487.2" stroke="#333" stroke-width="0.9" />
<line x1="291.3" y1="446.5" x2="297.3" y2="446.5" stroke="#333" stroke-width="0.9" />
<line x1="291.3" y1="487.2" x2="297.3" y2="487.2" stroke="#333" stroke-width="0.9" />
<rect x="287.8" y="460.8" width="13" height="10.899999999999977" fill="#134f86" />
<line x1="287.8" y1="467.7" x2="300.8" y2="467.7" stroke="#0f3a6b" stroke-width="1.1" />
<line x1="274.5" y1="497.8" x2="274.5" y2="500.5" stroke="#222" stroke-width="1" />
<line x1="294.3" y1="497.8" x2="294.3" y2="500.5" stroke="#222" stroke-width="1" />
<text x="274.5" y="510.3" font-size="7.7" text-anchor="middle" >M</text>
<text x="294.3" y="510.3" font-size="7.7" text-anchor="middle" >U</text>
<line x1="271.3" y1="513.6" x2="297.3" y2="513.6" stroke="#333" stroke-width="0.8" />
<text x="284.4" y="521.9" font-size="7.9" text-anchor="middle" >TGF&#946;</text>
<text x="323.65000000000003" y="408.4" font-size="7.2" letter-spacing="0.5" text-anchor="middle"><tspan font-style="italic">p</tspan> = 0.01</text>
<path d="M313.5,414.2 V411.5 H334.1 V414.2" fill="none" stroke="#333" stroke-width="0.9"/>
<line x1="314.0" y1="453.2" x2="314.0" y2="464.1" stroke="#333" stroke-width="0.9" />
<line x1="311.0" y1="453.2" x2="317.0" y2="453.2" stroke="#333" stroke-width="0.9" />
<line x1="311.0" y1="464.1" x2="317.0" y2="464.1" stroke="#333" stroke-width="0.9" />
<rect x="307.5" y="455" width="13" height="6.5" fill="#c8102e" />
<line x1="307.5" y1="456.7" x2="320.5" y2="456.7" stroke="#8c0b30" stroke-width="1.1" />
<line x1="334.1" y1="447.4" x2="334.1" y2="459" stroke="#333" stroke-width="0.9" />
<line x1="331.1" y1="447.4" x2="337.1" y2="447.4" stroke="#333" stroke-width="0.9" />
<line x1="331.1" y1="459" x2="337.1" y2="459" stroke="#333" stroke-width="0.9" />
<rect x="327.6" y="451.4" width="13" height="5.0" fill="#134f86" />
<line x1="327.6" y1="454.1" x2="340.6" y2="454.1" stroke="#0f3a6b" stroke-width="1.1" />
<line x1="314.0" y1="497.8" x2="314.0" y2="500.5" stroke="#222" stroke-width="1" />
<line x1="334.1" y1="497.8" x2="334.1" y2="500.5" stroke="#222" stroke-width="1" />
<text x="314.0" y="510.3" font-size="7.7" text-anchor="middle" >M</text>
<text x="334.1" y="510.3" font-size="7.7" text-anchor="middle" >U</text>
<line x1="310.8" y1="513.6" x2="337.1" y2="513.6" stroke="#333" stroke-width="0.8" />
<text x="321.4" y="521.9" font-size="7.9" text-anchor="middle" >KLF2</text>
<path d="M333.3,515.2 V519.4" stroke="#666" stroke-width="0.7"/><path d="M331.5,518.7 L335.1,518.7 L333.3,521.5 Z" fill="#222"/>
<rect x="108.4" y="448.6" width="13" height="2.8" fill="#8c0b30" />
<circle cx="114.9" cy="443.1" r="1.3" fill="#8c0b30" />
<circle cx="114.9" cy="456.2" r="1.3" fill="#8c0b30" />
<circle cx="294.2" cy="440.3" r="1.3" fill="#0f3a6b" />
<circle cx="334" cy="466.4" r="1.3" fill="#0f3a6b" />
</svg></body></html>
